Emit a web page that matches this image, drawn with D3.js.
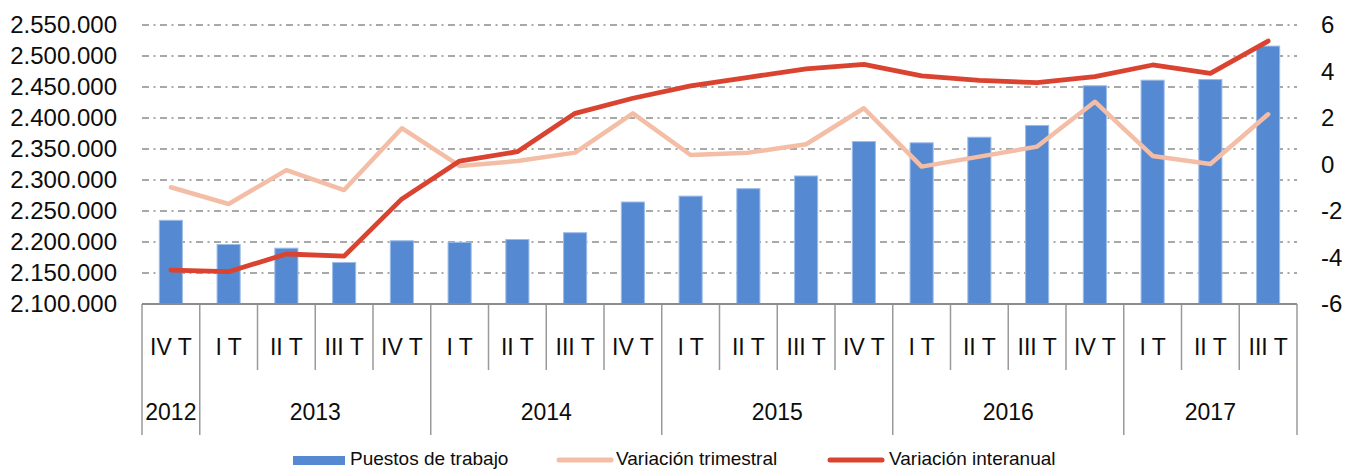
<!DOCTYPE html>
<html>
<head>
<meta charset="utf-8">
<script src="https://cdn.jsdelivr.net/npm/d3@7"></script>
<style>
  html, body { margin: 0; padding: 0; background: #fff; }
  svg { display: block; font-family: "Liberation Sans", Arial, sans-serif; }
</style>
</head>
<body>
<svg id="chart" width="1347" height="470"></svg>
<script>
// ---- data ----
const quarters = ["IV T","I T","II T","III T","IV T","I T","II T","III T","IV T","I T","II T","III T","IV T","I T","II T","III T","IV T","I T","II T","III T"];
const years = ["2012","2013","2014","2015","2016","2017"];
const yearSpans = [1, 4, 4, 4, 4, 3];
const puestos = [2235000, 2196000, 2190000, 2167000, 2202000, 2199500, 2204000, 2215000, 2264500, 2274000, 2286000, 2306500, 2362000, 2360000, 2369000, 2388000, 2452000, 2461000, 2462000, 2516000];
const varTrimestral = [-0.98, -1.70, -0.24, -1.10, 1.56, -0.06, 0.15, 0.51, 2.20, 0.41, 0.51, 0.87, 2.42, -0.09, 0.34, 0.77, 2.70, 0.37, 0.02, 2.16];
const varInteranual = [-4.54, -4.61, -3.85, -3.94, -1.48, 0.15, 0.55, 2.20, 2.85, 3.38, 3.75, 4.11, 4.31, 3.81, 3.62, 3.52, 3.78, 4.28, 3.92, 5.31];
const leftTicks = [2100000, 2150000, 2200000, 2250000, 2300000, 2350000, 2400000, 2450000, 2500000, 2550000];
const rightTicks = [-6, -4, -2, 0, 2, 4, 6];
const seriesNames = ["Puestos de trabajo", "Variación trimestral", "Variación interanual"];

// ---- layout ----
const L = 142, R = 1297, T = 25, B = 304;
const svg = d3.select("#chart");
const locale = d3.formatLocale({decimal: ",", thousands: ".", grouping: [3], currency: ["", "€"]});
const fmt = locale.format(",d");

const x = d3.scaleBand().domain(d3.range(quarters.length)).range([L, R]).paddingInner(0.6).paddingOuter(0.3);
const yL = d3.scaleLinear().domain([2100000, 2550000]).range([B, T]);
const yR = d3.scaleLinear().domain([-6, 6]).range([B, T]);
const cx = i => x(i) + x.bandwidth() / 2;
const halfGap = (x.step() - x.bandwidth()) / 2;
const boundary = i => i < quarters.length ? x(i) - halfGap : x(quarters.length - 1) + x.bandwidth() + halfGap;

// gridlines
svg.append("g").selectAll("line").data(leftTicks.slice(1)).join("line")
  .attr("x1", L).attr("x2", R)
  .attr("y1", d => yL(d)).attr("y2", d => yL(d))
  .attr("stroke", "#8c8c8c").attr("stroke-width", 1.6)
  .attr("stroke-dasharray", "7,4.5,2,4.5");

// bars
svg.append("g").selectAll("rect").data(puestos).join("rect")
  .attr("x", (d, i) => x(i)).attr("width", x.bandwidth())
  .attr("y", d => yL(d)).attr("height", d => yL(2100000) - yL(d))
  .attr("fill", "#558ad2").attr("stroke", "#9dbce8").attr("stroke-width", 1);

// lines
const lineGen = d3.line().x((d, i) => cx(i)).y(d => yR(d));
svg.append("path").datum(varTrimestral).attr("d", lineGen)
  .attr("fill", "none").attr("stroke", "#f3bda6").attr("stroke-width", 4.5)
  .attr("stroke-linejoin", "round").attr("stroke-linecap", "round");
svg.append("path").datum(varInteranual).attr("d", lineGen)
  .attr("fill", "none").attr("stroke", "#d9432f").attr("stroke-width", 4.8)
  .attr("stroke-linejoin", "round").attr("stroke-linecap", "round");

// left axis
const gL = svg.append("g").attr("transform", `translate(${L},0)`)
  .call(d3.axisLeft(yL).tickValues(leftTicks).tickFormat(fmt).tickSize(0).tickPadding(25));
gL.select(".domain").remove();
gL.selectAll("text").attr("font-size", 24).attr("fill", "#0d0d0d").attr("font-family", '"Liberation Sans", Arial, sans-serif');

// right axis
const gR = svg.append("g").attr("transform", `translate(${R},0)`)
  .call(d3.axisRight(yR).tickValues(rightTicks).tickFormat(d3.format("d")).tickSize(0).tickPadding(24));
gR.select(".domain").remove();
gR.selectAll("text").attr("font-size", 24).attr("fill", "#0d0d0d").attr("font-family", '"Liberation Sans", Arial, sans-serif')
  .text(d => d < 0 ? "-" + Math.abs(d) : d);

// x axis quarter labels
const gX = svg.append("g").attr("transform", `translate(0,${B})`)
  .call(d3.axisBottom(x).tickFormat(i => quarters[i]).tickSize(0).tickPadding(0));
gX.select(".domain").remove();
gX.selectAll("text").attr("font-size", 23).attr("fill", "#0d0d0d").attr("font-family", '"Liberation Sans", Arial, sans-serif')
  .attr("y", 0).attr("dy", 0).attr("transform", "translate(0,51)");

// separators
const yearBounds = [0];
yearSpans.forEach(s => yearBounds.push(yearBounds[yearBounds.length - 1] + s));
svg.append("g").selectAll("line").data(d3.range(quarters.length + 1)).join("line")
  .attr("x1", i => boundary(i)).attr("x2", i => boundary(i))
  .attr("y1", B).attr("y2", i => yearBounds.includes(i) ? 435 : 370)
  .attr("stroke", "#9a9a9a").attr("stroke-width", 1.5);

// axis line
svg.append("line").attr("x1", L).attr("x2", R).attr("y1", B).attr("y2", B)
  .attr("stroke", "#8c8c8c").attr("stroke-width", 2);

// year labels
svg.append("g").selectAll("text").data(years).join("text")
  .attr("x", (d, j) => (boundary(yearBounds[j]) + boundary(yearBounds[j + 1])) / 2)
  .attr("y", 420)
  .attr("text-anchor", "middle").attr("font-size", 23).attr("fill", "#0d0d0d")
  .text(d => d);

// legend
const lg = svg.append("g");
lg.append("rect").attr("x", 293).attr("y", 456).attr("width", 52).attr("height", 9).attr("fill", "#558ad2");
lg.append("text").attr("x", 350).attr("y", 465).attr("font-size", 19).attr("fill", "#0d0d0d").text(seriesNames[0]);
lg.append("line").attr("x1", 559).attr("x2", 611).attr("y1", 460).attr("y2", 460)
  .attr("stroke", "#f3bda6").attr("stroke-width", 5).attr("stroke-linecap", "round");
lg.append("text").attr("x", 616).attr("y", 465).attr("font-size", 19).attr("fill", "#0d0d0d").text(seriesNames[1]);
lg.append("line").attr("x1", 830).attr("x2", 882).attr("y1", 460).attr("y2", 460)
  .attr("stroke", "#d9432f").attr("stroke-width", 5).attr("stroke-linecap", "round");
lg.append("text").attr("x", 889).attr("y", 465).attr("font-size", 19).attr("fill", "#0d0d0d").text(seriesNames[2]);
</script>
</body>
</html>
